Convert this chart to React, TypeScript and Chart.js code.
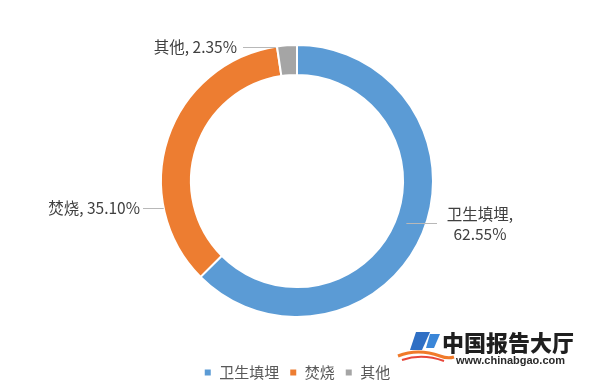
import React, { useEffect, useRef } from "react";
import { Chart, registerables } from "chart.js";

Chart.register(...registerables);

// Municipal solid waste disposal shares (%)
const categories = ["卫生填埋", "焚烧", "其他"];
const shares = [62.55, 35.1, 2.35];
const sliceColors = ["#5b9bd5", "#ed7d31", "#a5a5a5"];

const FONT = '"Noto Sans CJK SC", "Noto Sans", sans-serif';

// Where each outside label sits, relative to the doughnut centre
// side: -1 = left of the ring, 1 = right; dy = vertical offset of the leader line;
// textDx = text anchor; lineDx = where the leader line meets the text; inset = how far the line reaches into the ring
const labelPlacement = [
  { side: 1, dy: 42, textDx: 183, lineDx: 140, inset: 20, twoLine: true },
  { side: -1, dy: 27, textDx: -157, lineDx: -154, inset: 0, twoLine: false },
  { side: -1, dy: -134, textDx: -60, lineDx: -54, inset: 2, twoLine: false },
];

const sliceLabelPlugin = {
  id: "sliceLabels",
  afterDatasetsDraw(chart: any) {
    const meta = chart.getDatasetMeta(0);
    const ctx: CanvasRenderingContext2D = chart.ctx;
    const labels: string[] = chart.data.labels;
    const values: number[] = chart.data.datasets[0].data;
    ctx.save();
    ctx.font = `15.5px ${FONT}`;
    ctx.textBaseline = "middle";
    meta.data.forEach((arc: any, i: number) => {
      const p = labelPlacement[i];
      const { x, y, outerRadius } = arc.getProps(["x", "y", "outerRadius"], true);
      const ly = y + p.dy;
      const half = Math.sqrt(Math.max(outerRadius * outerRadius - p.dy * p.dy, 0));
      const startX = x + p.side * (half - p.inset);
      const endX = x + p.lineDx;

      ctx.strokeStyle = "#b8b8b8";
      ctx.lineWidth = 1;
      ctx.beginPath();
      ctx.moveTo(startX, ly + 0.5);
      ctx.lineTo(endX, ly + 0.5);
      ctx.stroke();

      const pct = values[i].toFixed(2) + "%";
      ctx.fillStyle = "#404040";
      if (p.twoLine) {
        ctx.textAlign = "center";
        ctx.fillText(labels[i] + ",", x + p.textDx, ly - 9);
        ctx.fillText(pct, x + p.textDx, ly + 11);
      } else {
        ctx.textAlign = p.side < 0 ? "right" : "left";
        ctx.fillText(`${labels[i]}, ${pct}`, x + p.textDx, ly);
      }
    });
    ctx.restore();
  },
};

export default function App() {
  const canvasRef = useRef<HTMLCanvasElement | null>(null);

  useEffect(() => {
    if (!canvasRef.current) return;
    const chart = new Chart(canvasRef.current, {
      type: "doughnut",
      data: {
        labels: categories,
        datasets: [
          {
            data: shares,
            backgroundColor: sliceColors,
            borderColor: "#ffffff",
            borderWidth: 2,
          },
        ],
      },
      options: {
        animation: false,
        responsive: false,
        radius: 136,
        cutout: "78%",
        layout: { padding: { top: 7, left: 0, right: 6, bottom: 0 } },
        plugins: {
          legend: {
            position: "bottom",
            labels: {
              boxWidth: 8,
              boxHeight: 8,
              padding: 10,
              color: "#595959",
              font: { family: FONT, size: 15 },
            },
          },
          tooltip: { enabled: false },
        },
      },
      plugins: [sliceLabelPlugin],
    });
    return () => chart.destroy();
  }, []);

  return (
    <div
      style={{
        position: "fixed",
        left: 0,
        top: 0,
        width: 600,
        height: 390,
        background: "#ffffff",
        overflow: "hidden",
      }}
    >
      <canvas ref={canvasRef} width={600} height={390} style={{ display: "block" }} />
      <svg
        width={60}
        height={40}
        style={{ position: "absolute", left: 396, top: 326 }}
        viewBox="0 0 60 40"
      >
        <path d="M2 30 Q22 22 44 30 Q52 33 58 31" stroke="#f07a2a" strokeWidth={3} fill="none" />
        <path d="M6 34 Q26 27 48 35" stroke="#e8463a" strokeWidth={2} fill="none" />
        <path d="M20 6 L34 6 L26 24 L14 24 Z" fill="#2f6fc4" />
        <path d="M34 8 L44 8 L38 22 L30 22 Z" fill="#3a86d8" />
      </svg>
      <div
        style={{
          position: "absolute",
          left: 442,
          top: 328,
          fontFamily: FONT,
          fontWeight: 900,
          fontSize: 22,
          lineHeight: "26px",
          color: "#1f1f1f",
          whiteSpace: "nowrap",
        }}
      >
        中国报告大厅
      </div>
      <div
        style={{
          position: "absolute",
          left: 456,
          top: 354,
          fontFamily: '"Liberation Sans", Arial, sans-serif',
          fontWeight: 700,
          fontSize: 11,
          lineHeight: "13px",
          color: "#2a2a2a",
          whiteSpace: "nowrap",
        }}
      >
        www.chinabgao.com
      </div>
    </div>
  );
}
